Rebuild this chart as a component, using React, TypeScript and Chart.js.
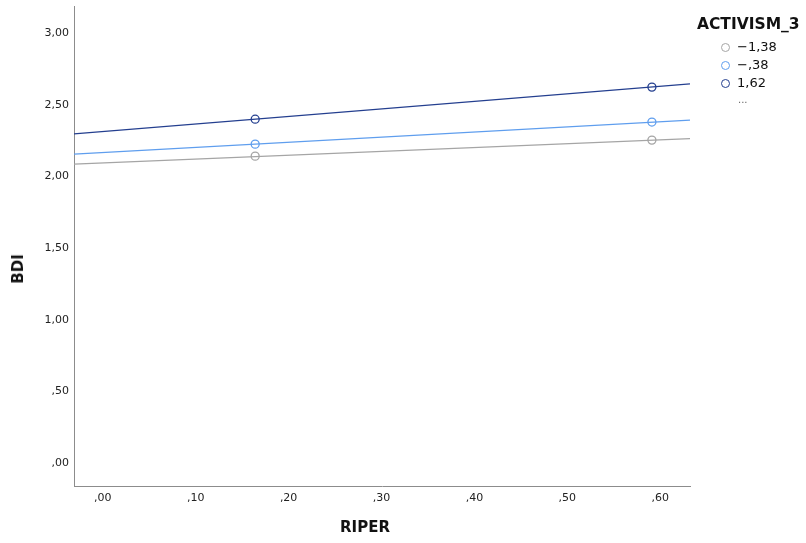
import React, { useEffect, useRef } from "react";
import { Chart, registerables } from "chart.js";
Chart.register(...registerables);

// ---- data ----
const seriesNames = ["\u22121,38", "\u2212,38", "1,62"];
const seriesColors = ["#a5a5a5", "#5f9eee", "#243f8f"];
const pointX = [0.164, 0.591];
const pointsLow = [2.142, 2.254];
const pointsMid = [2.226, 2.38];
const pointsHigh = [2.4, 2.624];
const lineX = [-0.031, 0.632];
const lineLow = [2.087, 2.265];
const lineMid = [2.156, 2.394];
const lineHigh = [2.298, 2.646];
const xTicks = [0, 0.1, 0.2, 0.3, 0.4, 0.5, 0.6];
const yTicks = [0, 0.5, 1, 1.5, 2, 2.5, 3];
const xRange = [-0.031, 0.632];
const yRange = [-0.16, 3.19];
const xTitle = "RIPER";
const yTitle = "BDI";
const legendTitle = "ACTIVISM_3";

const fmt = (v: number) => {
  const s = Number(v).toFixed(2).replace(".", ",");
  return s.startsWith("0,") ? s.slice(1) : s;
};

const FONT = "'DejaVu Sans', sans-serif";

export default function App() {
  const ref = useRef<HTMLCanvasElement | null>(null);
  useEffect(() => {
    if (!ref.current) return;
    const lines = [lineLow, lineMid, lineHigh];
    const pts = [pointsLow, pointsMid, pointsHigh];
    const datasets: any[] = [];
    lines.forEach((arr, i) => {
      datasets.push({
        label: seriesNames[i] + " fit",
        data: lineX.map((x, j) => ({ x, y: arr[j] })),
        showLine: true,
        borderColor: seriesColors[i],
        borderWidth: 1.3,
        pointRadius: 0,
        fill: false,
      });
    });
    pts.forEach((arr, i) => {
      datasets.push({
        label: seriesNames[i],
        data: pointX.map((x, j) => ({ x, y: arr[j] })),
        showLine: false,
        pointRadius: 4,
        pointBorderWidth: 1.3,
        pointBorderColor: seriesColors[i],
        pointBackgroundColor: "#ffffff",
      });
    });
    const chart = new Chart(ref.current, {
      type: "scatter",
      data: { datasets },
      options: {
        animation: false,
        responsive: true,
        maintainAspectRatio: false,
        layout: { padding: { top: 6, right: 116, bottom: 0, left: 0 } },
        plugins: { legend: { display: false }, tooltip: { enabled: false } },
        scales: {
          x: {
            type: "linear",
            min: xRange[0],
            max: xRange[1],
            afterBuildTicks: (s: any) => {
              s.ticks = xTicks.map((v) => ({ value: v }));
            },
            afterFit: (s: any) => {
              s.height = 57;
              s.paddingLeft = 0;
              s.paddingRight = 0;
            },
            ticks: {
              callback: (v: any) => fmt(v),
              font: { family: FONT, size: 11 },
              color: "#222",
              padding: 6,
              maxRotation: 0,
              autoSkip: false,
            },
            grid: { display: false, drawTicks: false },
            border: { display: true, color: "#8c8c8c", width: 1 },
          },
          y: {
            type: "linear",
            min: yRange[0],
            max: yRange[1],
            afterBuildTicks: (s: any) => {
              s.ticks = yTicks.map((v) => ({ value: v }));
            },
            afterFit: (s: any) => {
              s.width = 74;
              s.paddingTop = 0;
              s.paddingBottom = 0;
            },
            ticks: {
              callback: (v: any) => fmt(v),
              font: { family: FONT, size: 11 },
              color: "#222",
              padding: 5,
              autoSkip: false,
            },
            grid: { display: false, drawTicks: false },
            border: { display: true, color: "#8c8c8c", width: 1 },
          },
        },
      },
    });
    return () => chart.destroy();
  }, []);

  const text: React.CSSProperties = { position: "absolute", fontFamily: FONT, color: "#111", whiteSpace: "nowrap" };

  return (
    <div style={{ position: "fixed", left: 0, top: 0, width: 806, height: 543, background: "#fff" }}>
      <canvas ref={ref} />
      <div style={{ ...text, left: 365, top: 518, transform: "translateX(-50%)", fontSize: 15, fontWeight: "bold", lineHeight: "18px" }}>
        {xTitle}
      </div>
      <div style={{ ...text, left: 18, top: 269, transform: "translate(-50%, -50%) rotate(-90deg)", fontSize: 15, fontWeight: "bold", lineHeight: "18px" }}>
        {yTitle}
      </div>
      <div style={{ ...text, left: 697, top: 15, fontSize: 15.5, fontWeight: "bold", lineHeight: "18px" }}>{legendTitle}</div>
      {seriesNames.map((n, i) => (
        <div key={n} style={{ ...text, left: 721, top: 38 + i * 18, height: 18, display: "flex", alignItems: "center", fontSize: 13, lineHeight: "18px" }}>
          <span style={{ display: "inline-block", width: 7, height: 7, borderRadius: "50%", border: `1.3px solid ${seriesColors[i]}`, marginRight: 7 }} />
          <span>{n}</span>
        </div>
      ))}
      <div style={{ ...text, left: 738, top: 94, fontSize: 10, color: "#666", lineHeight: "12px" }}>...</div>
    </div>
  );
}
